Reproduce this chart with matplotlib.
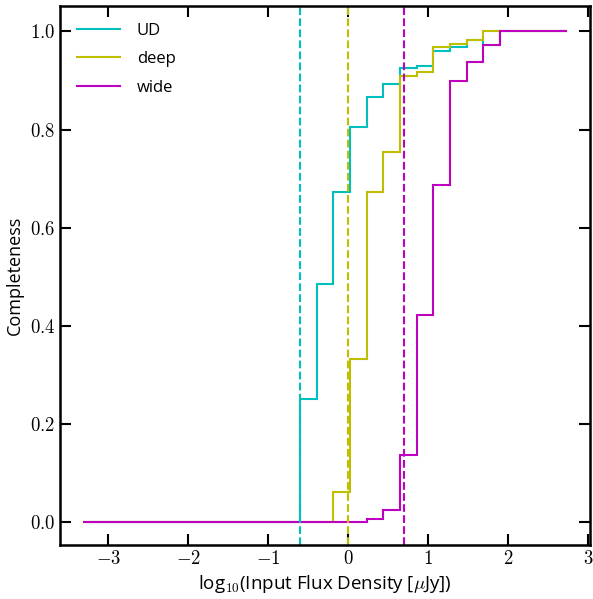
import numpy as np
import matplotlib
matplotlib.use("Agg")
import matplotlib.pyplot as plt
from matplotlib.ticker import FuncFormatter

# Bin edges in log10(flux / uJy)
edges = [-3.312, -3.104, -2.896, -2.688, -2.479, -2.271, -2.062, -1.854,
         -1.646, -1.438, -1.229, -1.021, -0.812, -0.604, -0.396, -0.188,
         0.021, 0.229, 0.438, 0.646, 0.854, 1.062, 1.271, 1.479, 1.688,
         1.896, 2.104, 2.312, 2.521, 2.729]

# Completeness per bin
ud = [0.0] * 13 + [0.25, 0.485, 0.672, 0.805, 0.866, 0.892, 0.926, 0.929,
                   0.960, 0.968, 0.982, 0.972, 1.0, 1.0, 1.0, 1.0]
deep = [0.0] * 15 + [0.06, 0.332, 0.672, 0.755, 0.910, 0.917, 0.968, 0.974,
                     0.983, 1.0, 1.0, 1.0, 1.0, 1.0]
wide = [0.0] * 17 + [0.005, 0.024, 0.136, 0.421, 0.687, 0.898, 0.937, 0.973,
                     1.0, 1.0, 1.0, 1.0]

# 50% limits (dashed lines)
limits = {"UD": -0.6, "deep": 0.0, "wide": 0.7}
colours = {"UD": "c", "deep": "y", "wide": "m"}

plt.rcParams["font.family"] = ["Open Sans", "DejaVu Sans"]
plt.rcParams["mathtext.fontset"] = "cm"

fig = plt.figure(figsize=(5.93, 5.99), dpi=100)
ax = fig.add_axes([0.1012, 0.0902, 0.8938, 0.8998])

for name, vals in [("UD", ud), ("deep", deep), ("wide", wide)]:
    ax.stairs(vals, edges, color=colours[name], lw=1.5, label=name, baseline=None)

for name, x in limits.items():
    ax.axvline(x, color=colours[name], ls="--", lw=1.5)

ax.set_xlim(-3.604, 3.02)
ax.set_ylim(-0.0475, 1.052)
ax.set_xticks([-3, -2, -1, 0, 1, 2, 3])
ax.set_yticks([0.0, 0.2, 0.4, 0.6, 0.8, 1.0])
ax.xaxis.set_major_formatter(FuncFormatter(lambda v, p: f"${v:.0f}$"))
ax.yaxis.set_major_formatter(FuncFormatter(lambda v, p: f"${v:.1f}$"))
ax.tick_params(direction="in", top=True, right=True, length=8, width=1.5,
               labelsize=13.5)
for s in ax.spines.values():
    s.set_linewidth(1.8)

ax.set_xlabel(r"log$_{10}$(Input Flux Density [$\mu$Jy])", fontsize=13.5)
ax.set_ylabel("Completeness", fontsize=13)
ax.legend(loc="upper left", frameon=False, fontsize=12, handlelength=2.6,
          handletextpad=1.0, labelspacing=0.75, borderaxespad=0.6)

fig.savefig("out.png", dpi=100)
